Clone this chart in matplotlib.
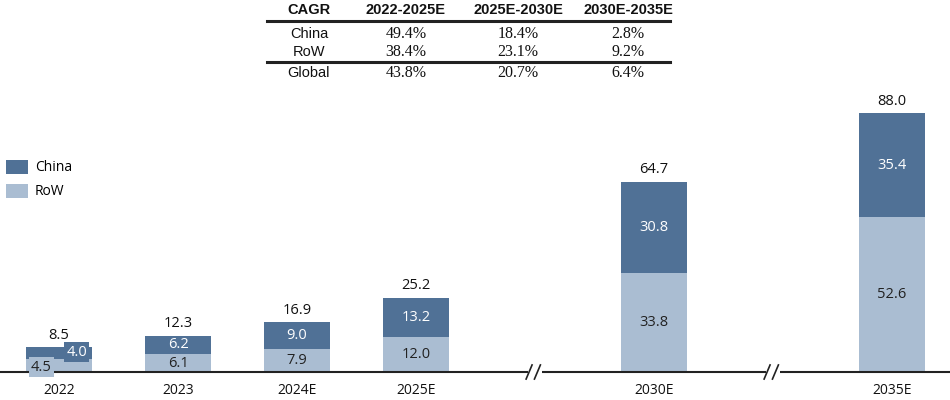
import matplotlib
matplotlib.use("Agg")
import matplotlib.pyplot as plt
from matplotlib.lines import Line2D
from matplotlib.patches import Patch

categories = ["2022", "2023", "2024E", "2025E", "2030E", "2035E"]
positions = [0, 1, 2, 3, 5, 7]
row_vals = [4.5, 6.1, 7.9, 12.0, 33.8, 52.6]
china_vals = [4.0, 6.2, 9.0, 13.2, 30.8, 35.4]
totals = [8.5, 12.3, 16.9, 25.2, 64.7, 88.0]
break_positions = [4, 6]

cagr_header = ["CAGR", "2022-2025E", "2025E-2030E", "2030E-2035E"]
cagr_rows = ["China", "RoW", "Global"]
cagr_china = ["49.4%", "18.4%", "2.8%"]
cagr_row = ["38.4%", "23.1%", "9.2%"]
cagr_global = ["43.8%", "20.7%", "6.4%"]

DARK = "#507196"
LIGHT = "#AABDD2"
LBL_FONT = "Open Sans"

fig = plt.figure(figsize=(9.5, 4.0), dpi=100)
ax = fig.add_axes([0, 0.07, 1, 0.93])
ax.set_xlim(-0.496, 7.487)
ax.set_ylim(0, 126.5)
ax.axis("off")

w = 0.555
ax.bar(positions, row_vals, width=w, color=LIGHT, zorder=2)
ax.bar(positions, china_vals, bottom=row_vals, width=w, color=DARK, zorder=2)

for i, (p, r, c, t) in enumerate(zip(positions, row_vals, china_vals, totals)):
    ax.text(p, t + 1.5, f"{t:.1f}", ha="center", va="bottom", fontsize=10.5,
            family=LBL_FONT, color="#111111", zorder=4)
    if i == 0:
        ax.text(p - 0.15, r * 0.37, f"{r:.1f}", ha="center", va="center", fontsize=10.5,
                family=LBL_FONT, color="#222222", zorder=4,
                bbox=dict(boxstyle="square,pad=0.15", fc=LIGHT, ec="none"))
        ax.text(p + 0.15, r + c * 0.57, f"{c:.1f}", ha="center", va="center", fontsize=10.5,
                family=LBL_FONT, color="white", zorder=4,
                bbox=dict(boxstyle="square,pad=0.15", fc=DARK, ec="none"))
    else:
        ax.text(p, r / 2, f"{r:.1f}", ha="center", va="center", fontsize=10.5,
                family=LBL_FONT, color="#222222", zorder=4)
        ax.text(p, r + c / 2, f"{c:.1f}", ha="center", va="center", fontsize=10.5,
                family=LBL_FONT, color="white", zorder=4)
    ax.text(p, -3.6, categories[i], ha="center", va="top", fontsize=10,
            family=LBL_FONT, color="#111111", clip_on=False)

# baseline with break marks
ax.axhline(0, color="#222222", lw=1.5, zorder=3, clip_on=False)
for b in break_positions:
    ax.plot([b - 0.06, b + 0.06], [0, 0], color="white", lw=3, zorder=3.5,
            solid_capstyle="butt", clip_on=False)
    for dx in (-0.05, 0.02):
        ax.plot([b + dx - 0.025, b + dx + 0.025], [-2.4, 2.4], color="#222222",
                lw=1.2, zorder=4, clip_on=False)

# legend
handles = [Patch(facecolor=DARK, edgecolor="none", label="China"),
           Patch(facecolor=LIGHT, edgecolor="none", label="RoW")]
leg = fig.legend(handles=handles, loc="upper left", bbox_to_anchor=(0.0, 0.615),
                 frameon=False, prop={"family": LBL_FONT, "size": 10},
                 handlelength=1.6, handleheight=1.2, labelspacing=0.6,
                 handletextpad=0.5, borderaxespad=0.0, borderpad=0.4)

# CAGR table (figure pixel coords -> fraction)
def fx(px):
    return px / 950.0

def fy(py):
    return 1 - py / 400.0

col_x = [309, 406, 518, 628]
for x, h in zip(col_x, cagr_header):
    fig.text(fx(x), fy(10), h, ha="center", va="center", fontsize=10.5,
             family="Liberation Sans", weight="bold", color="#111111")
row_y = [34, 52, 73]
row_data = [cagr_china, cagr_row, cagr_global]
for y, lab, vals in zip(row_y, cagr_rows, row_data):
    fig.text(fx(col_x[0]), fy(y), lab, ha="center", va="center", fontsize=10.5,
             family="Liberation Sans", color="#111111")
    for x, v in zip(col_x[1:], vals):
        fig.text(fx(x), fy(y), v, ha="center", va="center", fontsize=11.5,
                 family="Liberation Serif", color="#111111")
for ly in (21, 62):
    fig.add_artist(Line2D([fx(267), fx(670)], [fy(ly), fy(ly)], color="#222222",
                          lw=2.2, transform=fig.transFigure))

fig.savefig("out.png", dpi=100)
